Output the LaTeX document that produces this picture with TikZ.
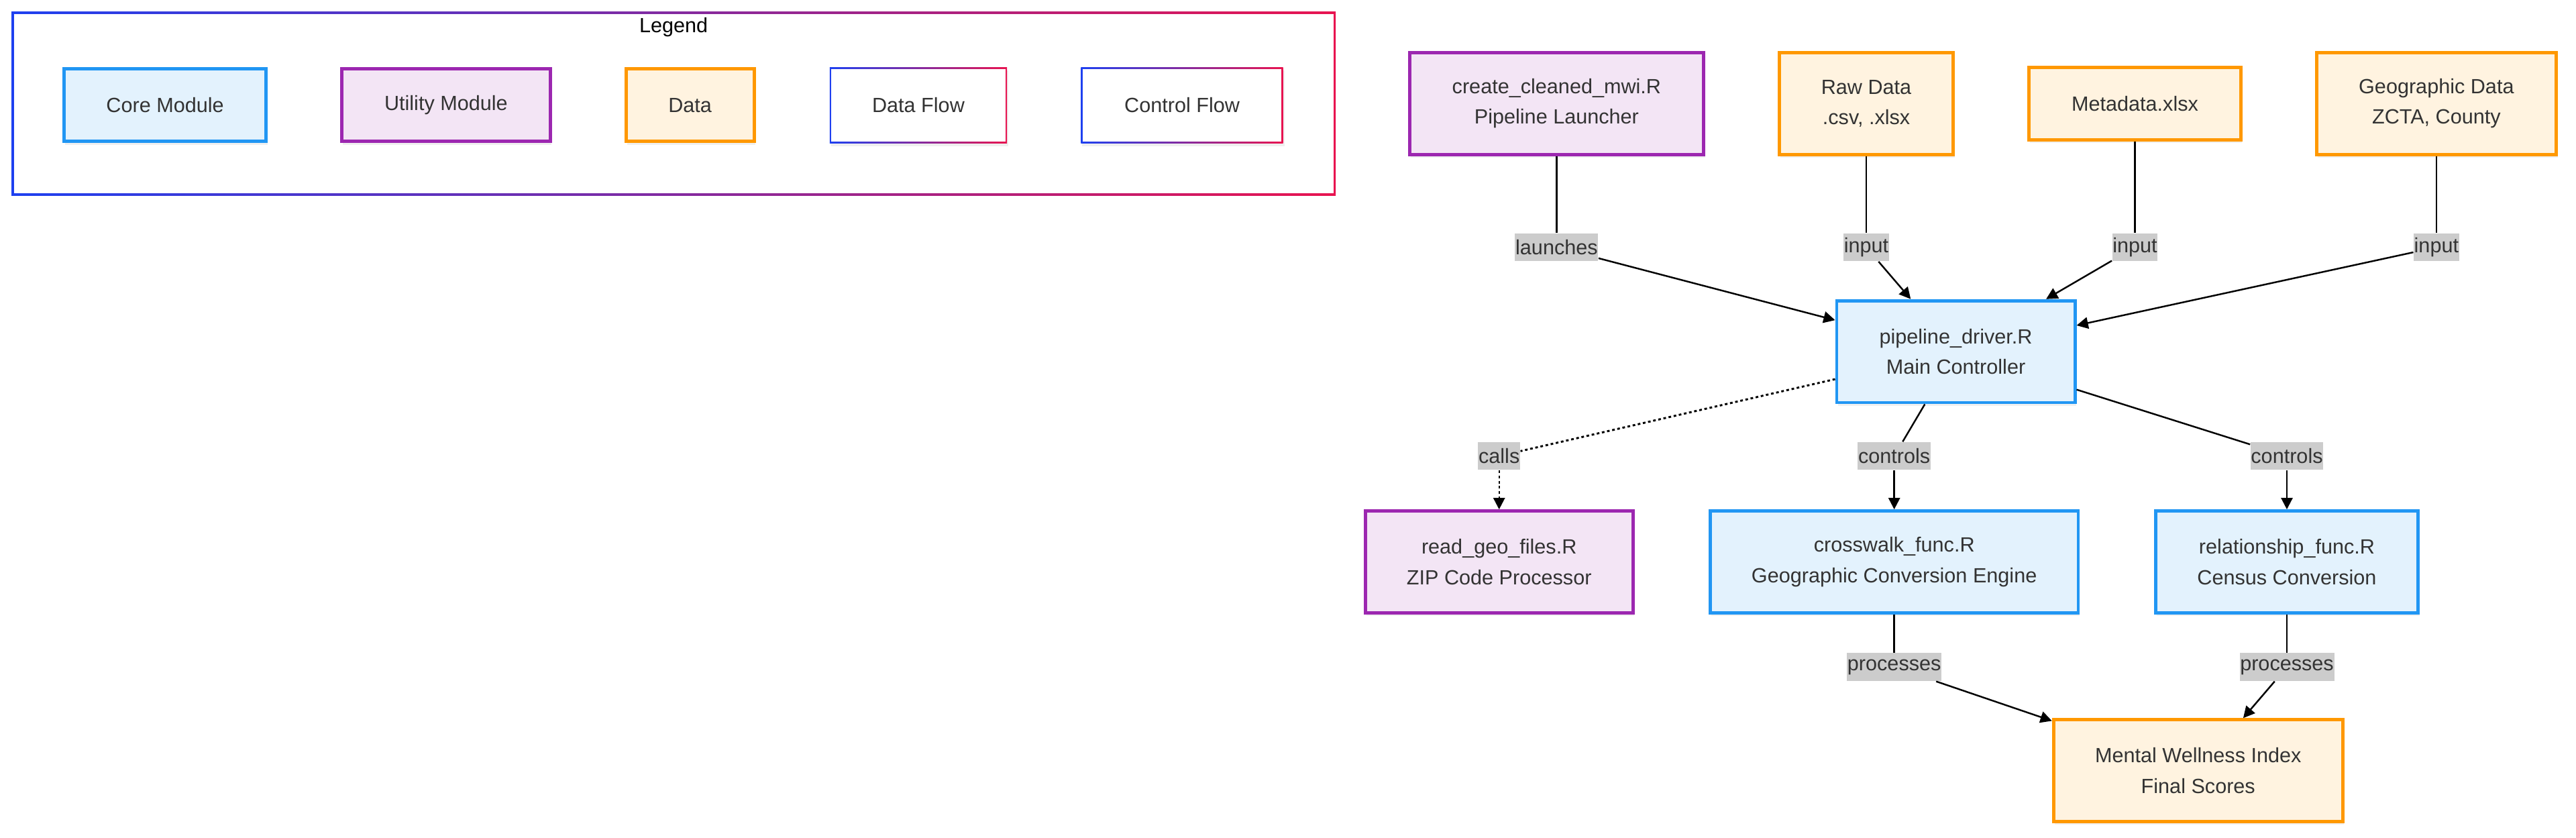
\documentclass[tikz,border=0pt]{standalone}
\usepackage{fontspec}
\setmainfont{Liberation Sans}
\usetikzlibrary{arrows.meta,shadows}
\definecolor{coreFill}{HTML}{E3F2FD}
\definecolor{coreLine}{HTML}{2196F3}
\definecolor{utilFill}{HTML}{F3E5F5}
\definecolor{utilLine}{HTML}{9C27B0}
\definecolor{dataFill}{HTML}{FFF3E0}
\definecolor{dataLine}{HTML}{FF9800}
\definecolor{gradBlue}{RGB}{30,64,240}
\definecolor{gradRed}{RGB}{232,20,80}
\definecolor{txt}{HTML}{333333}
\definecolor{lblFill}{HTML}{CCCCCC}
\begin{document}
\begin{tikzpicture}[x=1pt, y=-1pt, font=\fontsize{12.5}{18.5}\selectfont,
    box/.style 2 args={draw, line width=2pt, text=txt, align=center, inner sep=0pt,
      minimum width=#1, minimum height=#2,
      drop shadow={shadow xshift=0.8pt, shadow yshift=-2pt, opacity=0.12}},
    core/.style 2 args={box={#1}{#2}, fill=coreFill, draw=coreLine},
    util/.style 2 args={box={#1}{#2}, fill=utilFill, draw=utilLine},
    data/.style 2 args={box={#1}{#2}, fill=dataFill, draw=dataLine},
    gradbox/.style 2 args={minimum width=#1, minimum height=#2, text=txt, inner sep=0pt,
      left color=gradBlue, right color=gradRed,
      drop shadow={shadow xshift=0.8pt, shadow yshift=-2pt, opacity=0.12},
      path picture={\fill[white] ([shift={(1pt,-1pt)}]path picture bounding box.north west)
        rectangle ([shift={(-1pt,1pt)}]path picture bounding box.south east);}},
    lbl/.style={fill=lblFill, text=txt, inner xsep=0.3pt, inner ysep=0pt, minimum height=17pt},
    link/.style={line width=1pt},
    arr/.style={link, -{Triangle[length=7pt,width=7pt]}},
    dot/.style={line width=1.2pt, dash pattern=on 1.6pt off 1.6pt}]
  \useasboundingbox (0,0) rectangle (1568,509.6);

  % legend
  \fill[left color=gradBlue, right color=gradRed] (7,7) rectangle (813,119);
  \fill[white] (8.4,8.4) rectangle (811.6,117.6);
  \node (legTitle) at (410,16.5) {Legend};
  \node[core={123}{44}] (legCore) at (100.5,64) {Core Module};
  \node[util={127}{44}] (legUtil) at (271.5,64) {Utility Module};
  \node[data={78}{44}] (legData) at (420,64) {Data};
  \node[gradbox={108}{46}] (legDFlow) at (559,64) {Data Flow};
  \node[gradbox={123}{46}] (legCFlow) at (719.5,64) {Control Flow};

  % modules and data
  \node[util={179}{62}] (launcher) at (947.5,63) {create\_cleaned\_mwi.R\\Pipeline Launcher};
  \node[data={106}{62}] (rawData) at (1136,63) {Raw Data\\.csv, .xlsx};
  \node[data={129}{44}] (metaData) at (1299.5,63) {Metadata.xlsx};
  \node[data={146}{62}] (geoData) at (1483,63) {Geographic Data\\ZCTA, County};
  \node[core={145}{62}] (driver) at (1190.5,214) {pipeline\_driver.R\\Main Controller};
  \node[util={163}{62}] (readGeo) at (912.5,342) {read\_geo\_files.R\\ZIP Code Processor};
  \node[core={224}{62}] (crosswalk) at (1153,342) {crosswalk\_func.R\\Geographic Conversion Engine};
  \node[core={160}{62}] (relationship) at (1392,342) {relationship\_func.R\\Census Conversion};
  \node[data={176}{62}] (mwi) at (1338,469) {Mental Wellness Index\\Final Scores};

  % edge labels
  \node[lbl] (lLaunch) at (947.5,150.5) {launches};
  \node[lbl] (lRaw) at (1136,150.5) {input};
  \node[lbl] (lMeta) at (1299.5,150.5) {input};
  \node[lbl] (lGeo) at (1483,150.5) {input};
  \node[lbl] (lCalls) at (912.5,277.5) {calls};
  \node[lbl] (lCtrlA) at (1153,277.5) {controls};
  \node[lbl] (lCtrlB) at (1392,277.5) {controls};
  \node[lbl] (lProcA) at (1153,406) {processes};
  \node[lbl] (lProcB) at (1392,406) {processes};

  % connectors
  \draw[link] (launcher) -- (lLaunch);  \draw[arr] (lLaunch) -- (driver);
  \draw[link] (rawData) -- (lRaw);      \draw[arr] (lRaw) -- (driver);
  \draw[link] (metaData) -- (lMeta);    \draw[arr] (lMeta) -- (driver);
  \draw[link] (geoData) -- (lGeo);      \draw[arr] (lGeo) -- (driver);
  \draw[dot] (driver) -- (lCalls);      \draw[dot, arr] (lCalls) -- (readGeo);
  \draw[link] (driver) -- (lCtrlA);     \draw[arr] (lCtrlA) -- (crosswalk);
  \draw[link] (driver) -- (lCtrlB);     \draw[arr] (lCtrlB) -- (relationship);
  \draw[link] (crosswalk) -- (lProcA);  \draw[arr] (lProcA) -- (mwi);
  \draw[link] (relationship) -- (lProcB); \draw[arr] (lProcB) -- (mwi);
\end{tikzpicture}
\end{document}
